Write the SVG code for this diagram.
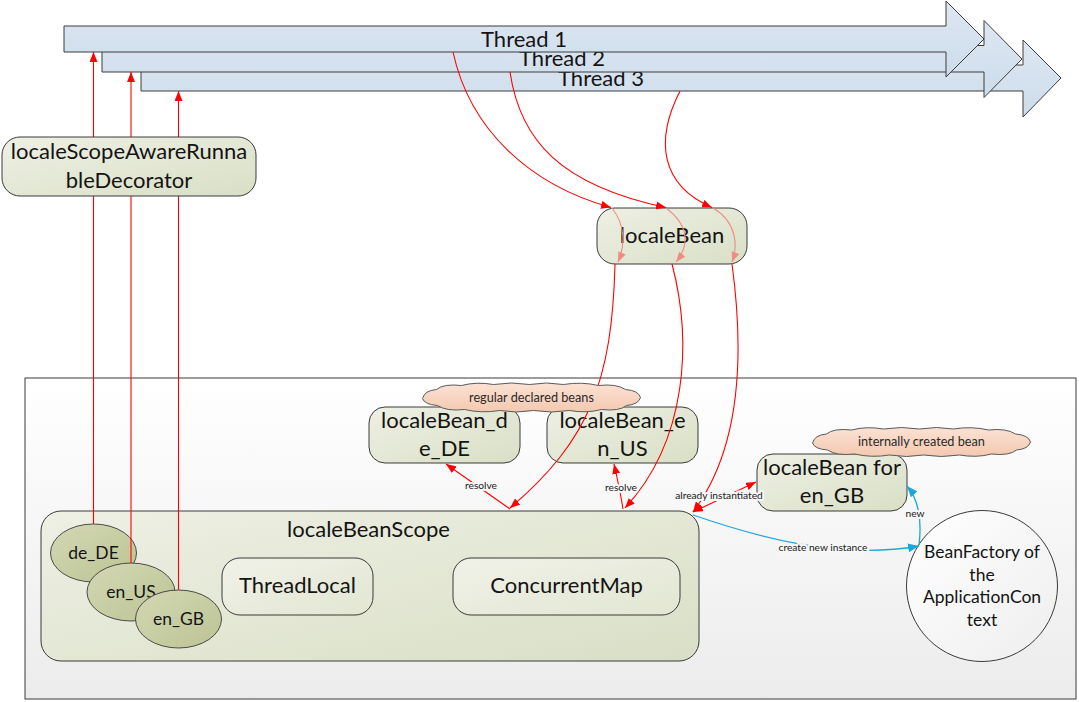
<svg xmlns="http://www.w3.org/2000/svg" xmlns:xlink="http://www.w3.org/1999/xlink" width="1079" height="702" viewBox="0 0 1079 702">
<style>
text{font-family:Lato,"Open Sans","Liberation Sans",sans-serif;fill:#141414;text-anchor:middle}
.big{font-size:22px}
.mid{font-size:17.5px}
.cl{font-size:12.7px;fill:#2a2a2a}
.lbl{font-size:10.2px;fill:#202020;paint-order:stroke;stroke:#f7f7f7;stroke-width:4px;stroke-linejoin:round}
.thr{fill:url(#gBlue);stroke:#3c3c3c;stroke-width:1}
.box{fill:url(#gGreen);stroke:#3a3a3a;stroke-width:1}
.inbox{fill:url(#gGreen2);stroke:#3a3a3a;stroke-width:1}
.ell{fill:url(#gOlive);stroke:#4a4a4a;stroke-width:1}
.cloud{fill:url(#gPeach);stroke:#5a5a5a;stroke-width:1}
.red{fill:none;stroke:#ff0000;stroke-width:1.1}
.pale{fill:none;stroke:#f08c84;stroke-width:1.1}
.cyan{fill:none;stroke:#1ea6dc;stroke-width:1.3}
</style>
<defs>
<linearGradient id="gBlue" x1="0" y1="0" x2="0" y2="1"><stop offset="0" stop-color="#dde7f2"/><stop offset="1" stop-color="#cddcea"/></linearGradient>
<linearGradient id="gGreen" x1="0" y1="0" x2="1" y2="1"><stop offset="0" stop-color="#eef0e4"/><stop offset="1" stop-color="#d9dfc6"/></linearGradient>
<linearGradient id="gGreen2" x1="0" y1="0" x2="1" y2="1"><stop offset="0" stop-color="#f0f2e8"/><stop offset="1" stop-color="#e2e6d2"/></linearGradient>
<linearGradient id="gOlive" x1="0" y1="0" x2="1" y2="1"><stop offset="0" stop-color="#d3d8b4"/><stop offset="1" stop-color="#bcc393"/></linearGradient>
<linearGradient id="gPeach" x1="0" y1="0" x2="0" y2="1"><stop offset="0" stop-color="#fbe2d4"/><stop offset="1" stop-color="#f4c8b0"/></linearGradient>
<linearGradient id="gBack" x1="0" y1="0" x2="0" y2="1"><stop offset="0" stop-color="#ffffff"/><stop offset="1" stop-color="#ececec"/></linearGradient>
<linearGradient id="gCircle" x1="0" y1="0" x2="1" y2="1"><stop offset="0" stop-color="#ffffff"/><stop offset="1" stop-color="#eeeeee"/></linearGradient>
<marker id="aRed" viewBox="0 0 10 8" refX="10" refY="4" markerWidth="10" markerHeight="8" markerUnits="userSpaceOnUse" orient="auto-start-reverse"><path d="M0,0 L10,4 L0,8 Z" fill="#ff0000"/></marker>
<marker id="aPale" viewBox="0 0 10 8" refX="10" refY="4" markerWidth="10" markerHeight="8" markerUnits="userSpaceOnUse" orient="auto"><path d="M0,0 L10,4 L0,8 Z" fill="#f08c84"/></marker>
<marker id="aCyan" viewBox="0 0 10 8" refX="10" refY="4" markerWidth="11" markerHeight="9" markerUnits="userSpaceOnUse" orient="auto"><path d="M0,0 L10,4 L0,8 Z" fill="#1ea6dc"/></marker>
<path id="cloudShape" d="M-109,1 Q-107,-7 -95,-8 Q-88,-14 -70,-12 Q-55,-16 -38,-13 Q-20,-16 -2,-13 Q15,-16 32,-13 Q50,-16 67,-12 Q85,-14 94,-8 Q107,-7 109,0 Q107,7 95,8 Q88,14 70,12 Q55,16 38,13 Q20,16 2,13 Q-15,16 -32,13 Q-50,16 -67,12 Q-85,14 -94,8 Q-107,7 -109,1 Z"/>
</defs>

<g id="container">
<rect x="25" y="378" width="1051" height="321" fill="url(#gBack)" stroke="#3a3a3a" stroke-width="1"/>
</g>

<g id="thread3">
<path class="thr" d="M141,65 H1023 V40 L1061,78 L1023,117 V91 H141 Z"/>
<text class="big" x="601" y="85.5">Thread 3</text>
</g>
<g id="thread2">
<path class="thr" d="M102,45.5 H984 V20.5 L1022,59 L984,97.5 V72 H102 Z"/>
<text class="big" x="562" y="66">Thread 2</text>
</g>
<g id="thread1">
<path class="thr" d="M64,26 H946 V1 L984,39 L946,77 V52 H64 Z"/>
<text class="big" x="524" y="46.5">Thread 1</text>
</g>

<g id="localeBean">
<rect class="box" x="597" y="208" width="150" height="56" rx="18"/>
<text class="big" x="672" y="243">localeBean</text>
</g>

<g id="localeBean_de_DE">
<rect class="box" x="369" y="407" width="151" height="56" rx="16"/>
<text class="big" x="444.5" y="428">localeBean_d</text>
<text class="big" x="444.5" y="456">e_DE</text>
</g>

<g id="localeBean_en_US">
<rect class="box" x="547" y="407" width="151" height="56" rx="16"/>
<text class="big" x="622.5" y="428">localeBean_e</text>
<text class="big" x="622.5" y="456">n_US</text>
</g>

<g id="localeBean_en_GB">
<rect class="box" x="757" y="454" width="150" height="57" rx="16"/>
<text class="big" x="832" y="475">localeBean for</text>
<text class="big" x="832" y="503">en_GB</text>
</g>

<g id="beanFactory">
<circle cx="982" cy="586" r="75.5" fill="url(#gCircle)" stroke="#3a3a3a" stroke-width="1"/>
<text class="mid" x="982" y="558">BeanFactory of</text>
<text class="mid" x="982" y="580.5">the</text>
<text class="mid" x="982" y="603">ApplicationCon</text>
<text class="mid" x="982" y="625.5">text</text>
</g>

<g id="localeBeanScope">
<rect class="box" x="41" y="511" width="658" height="150" rx="20"/>
<text class="big" x="368.5" y="537">localeBeanScope</text>
</g>
<g id="threadLocal">
<rect class="inbox" x="222" y="558" width="151" height="57" rx="18"/>
<text class="big" x="297.5" y="593">ThreadLocal</text>
</g>
<g id="concurrentMap">
<rect class="inbox" x="453" y="558" width="227" height="57" rx="18"/>
<text class="big" x="566.5" y="593">ConcurrentMap</text>
</g>
<g id="de_DE">
<ellipse class="ell" cx="93.5" cy="553" rx="43" ry="29"/>
<text class="mid" x="93.5" y="559">de_DE</text>
</g>
<g id="en_US">
<ellipse class="ell" cx="131" cy="592" rx="44" ry="29"/>
<text class="mid" x="131" y="598">en_US</text>
</g>
<g id="en_GB">
<ellipse class="ell" cx="178.5" cy="619" rx="43" ry="29"/>
<text class="mid" x="178.5" y="625">en_GB</text>
</g>

<g id="connectors">
<path class="red" d="M93.5,524 V52" marker-end="url(#aRed)"/>
<path class="red" d="M131,563 V72" marker-end="url(#aRed)"/>
<path class="red" d="M178.5,590 V91" marker-end="url(#aRed)"/>
<path class="red" d="M453,52 C470,130 530,185 611,207.5" marker-end="url(#aRed)"/>
<path class="red" d="M510,72 C520,140 560,185 666,207.5" marker-end="url(#aRed)"/>
<path class="red" d="M680,91 C655,140 660,185 712,207.5" marker-end="url(#aRed)"/>
<path class="pale" d="M612,208 C626,226 625,246 618,262" marker-end="url(#aPale)"/>
<path class="pale" d="M666,208 C690,226 689,246 676,262" marker-end="url(#aPale)"/>
<path class="pale" d="M713,208 C737,222 738,246 732,262" marker-end="url(#aPale)"/>
<path class="red" d="M615,264 C612,380 590,440 510,508" marker-end="url(#aRed)"/>
<path class="red" d="M672,264 C692,340 688,440 625,508" marker-end="url(#aRed)"/>
<path class="red" d="M732,264 C745,360 740,450 693,512" marker-end="url(#aRed)"/>
<path class="red" d="M510,509 L446,464" marker-end="url(#aRed)"/>
<path class="red" d="M623,509 Q620,490 614,464" marker-end="url(#aRed)"/>
<path class="red" d="M693,512 L756,482" marker-start="url(#aRed)" marker-end="url(#aRed)"/>
<path class="cyan" d="M693,515 C760,538 840,560 919,546" marker-end="url(#aCyan)"/>
<path class="cyan" d="M919,545 C922,520 919,500 907,486" marker-end="url(#aCyan)"/>
<text class="lbl" x="481" y="489">resolve</text>
<text class="lbl" x="621" y="490.5">resolve</text>
<text class="lbl" x="719" y="499">already instantiated</text>
<text class="lbl" x="823" y="550.5">create new instance</text>
<text class="lbl" x="915" y="517">new</text>
</g>

<g id="cloudRegular">
<use href="#cloudShape" xlink:href="#cloudShape" class="cloud" transform="translate(531.5,397.5)"/>
<text class="cl" x="531.5" y="401.5">regular declared beans</text>
</g>
<g id="cloudInternal">
<use href="#cloudShape" xlink:href="#cloudShape" class="cloud" transform="translate(921.5,442)"/>
<text class="cl" x="921.5" y="446">internally created bean</text>
</g>

<g id="localeScopeAwareRunnableDecorator">
<rect class="box" x="2" y="137" width="254" height="59" rx="18"/>
<text class="big" x="129" y="159">localeScopeAwareRunna</text>
<text class="big" x="129" y="188">bleDecorator</text>
</g>
</svg>
